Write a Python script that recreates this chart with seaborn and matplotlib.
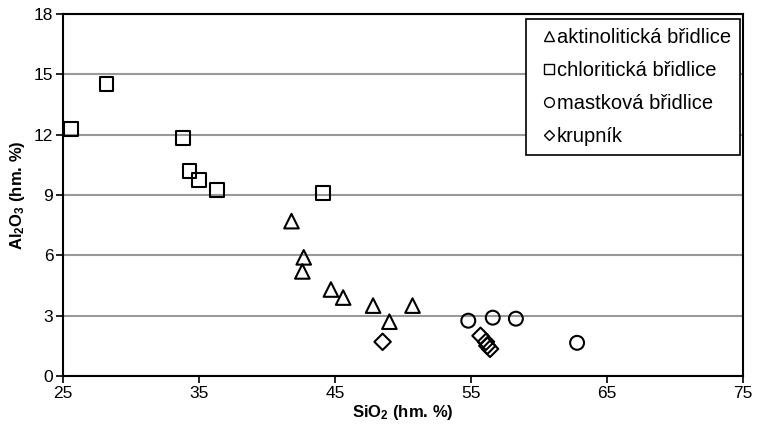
import matplotlib
matplotlib.use("Agg")
import matplotlib.pyplot as plt
import seaborn as sns
import pandas as pd
from matplotlib.lines import Line2D

# Data
akt_x = [41.8, 42.7, 42.6, 44.7, 45.6, 47.8, 49.0, 50.7]
akt_y = [7.7, 5.9, 5.2, 4.3, 3.9, 3.5, 2.7, 3.5]
chl_x = [25.6, 28.2, 33.8, 34.3, 35.0, 36.3, 44.1]
chl_y = [12.3, 14.5, 11.85, 10.2, 9.75, 9.25, 9.1]
mas_x = [54.8, 56.6, 58.3, 62.8]
mas_y = [2.75, 2.9, 2.85, 1.65]
kru_x = [48.5, 55.7, 56.1, 56.2, 56.4]
kru_y = [1.7, 2.0, 1.7, 1.5, 1.35]

groups = ["aktinolitická břidlice", "chloritická břidlice", "mastková břidlice", "krupník"]
xs = [akt_x, chl_x, mas_x, kru_x]
ys = [akt_y, chl_y, mas_y, kru_y]
markers = ["^", "s", "o", "D"]
sizes = [110, 100, 100, 70]

x_ticks = [25, 35, 45, 55, 65, 75]
y_ticks = [0, 3, 6, 9, 12, 15, 18]

sns.set_theme(style="white")
plt.rcParams["font.family"] = ["Liberation Sans", "DejaVu Sans"]
plt.rcParams["mathtext.fontset"] = "custom"
plt.rcParams["mathtext.rm"] = "Liberation Sans"
plt.rcParams["mathtext.bf"] = "Liberation Sans:bold"
plt.rcParams["text.color"] = "black"
plt.rcParams["axes.labelcolor"] = "black"
plt.rcParams["xtick.color"] = "black"
plt.rcParams["ytick.color"] = "black"

frames = []
for g, x, y in zip(groups, xs, ys):
    frames.append(pd.DataFrame({"SiO2": x, "Al2O3": y, "typ": g}))
df = pd.concat(frames, ignore_index=True)

fig = plt.figure(figsize=(7.57, 4.33), dpi=100)
ax = fig.add_axes([63/757, 1-376/433, 680/757, 362/433])

for g, m, s in zip(groups, markers, sizes):
    sub = df[df["typ"] == g]
    sns.scatterplot(data=sub, x="SiO2", y="Al2O3", marker=m, s=s,
                    facecolor="none", edgecolor="black", linewidth=1.5,
                    ax=ax, legend=False, zorder=3, clip_on=False)

ax.set_xlim(25, 75)
ax.set_ylim(0, 18)
ax.set_xticks(x_ticks)
ax.set_yticks(y_ticks)
ax.yaxis.grid(True, color="#999999", linewidth=1.5)
ax.set_axisbelow(True)
for sp in ax.spines.values():
    sp.set_color("black")
    sp.set_linewidth(1.5)
ax.tick_params(axis="both", direction="out", length=5, width=1.2, color="black",
               labelsize=12.5, pad=2, bottom=True, left=True, labelcolor="black")
ax.set_xlabel(r"$\mathbf{SiO_2}$ (hm. %)", fontsize=12, fontweight="bold", labelpad=2)
ax.set_ylabel(r"$\mathbf{Al_2O_3}$ (hm. %)", fontsize=12, fontweight="bold", labelpad=5)

handles = [Line2D([], [], marker=m, linestyle="none", markerfacecolor="none",
                  markeredgecolor="black", markersize=ms, markeredgewidth=1.0)
           for m, ms in zip(markers, [7, 7, 7, 5])]
leg = ax.legend(handles, groups, loc="upper right", bbox_to_anchor=(740/757, 1-19/433),
                bbox_transform=fig.transFigure, frameon=True, fancybox=False,
                fontsize=14.5, handlelength=1.4, handletextpad=-0.3, labelspacing=0.7,
                borderpad=0.45, borderaxespad=0, labelcolor="black")
leg.get_frame().set_edgecolor("black")
leg.get_frame().set_linewidth(1.2)
leg.get_frame().set_alpha(1)

fig.savefig("out.png", dpi=100)
